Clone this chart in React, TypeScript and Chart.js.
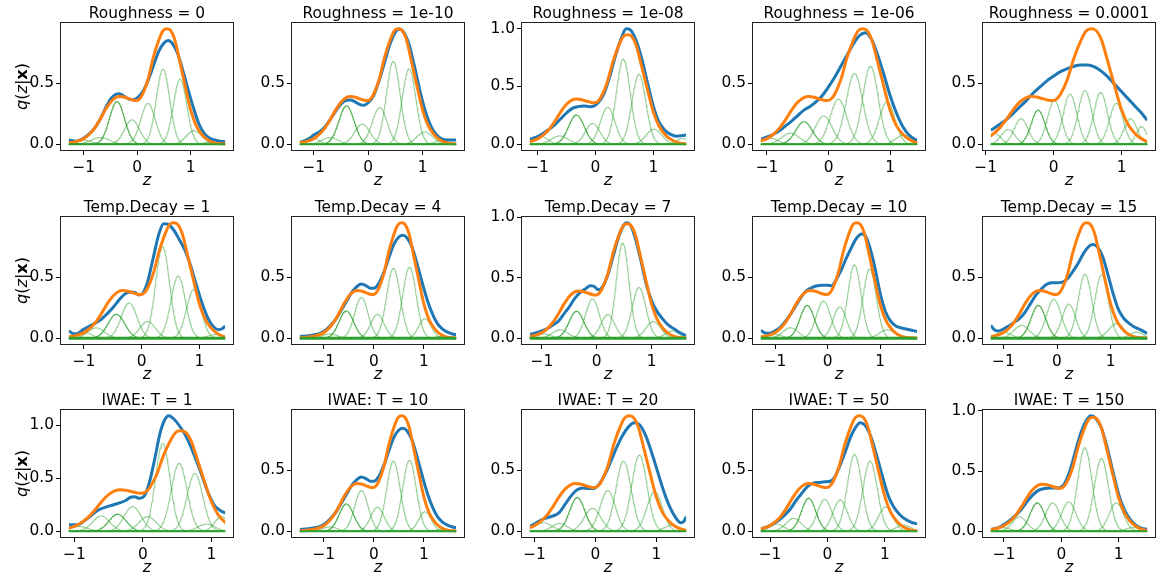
import React, { useEffect, useRef } from "react";
import { Chart, registerables } from "chart.js";
Chart.register(...registerables);

const FAMILY = "'DejaVu Sans', 'Verdana', 'Noto Sans', sans-serif";
const L = 0.5; // light component
const D = 0.85; // dark component

const titles = [
  "Roughness = 0", "Roughness = 1e-10", "Roughness = 1e-08", "Roughness = 1e-06", "Roughness = 0.0001",
  "Temp.Decay = 1", "Temp.Decay = 4", "Temp.Decay = 7", "Temp.Decay = 10", "Temp.Decay = 15",
  "IWAE: T = 1", "IWAE: T = 10", "IWAE: T = 20", "IWAE: T = 50", "IWAE: T = 150",
];

const xTickValues = [-1, 0, 1];
const yTickValues = [0, 0.5, 1.0];

// data extent (z) of each panel
const panelRanges: [number, number][] = [
  [-1.28, 1.645], [-1.256, 1.617], [-1.134, 1.568], [-1.1, 1.44], [-0.924, 1.375],
  [-1.262, 1.445], [-1.477, 1.644], [-1.219, 1.629], [-1.27, 1.705], [-1.233, 1.68],
  [-1.081, 1.203], [-1.477, 1.644], [-1.078, 1.49], [-1.16, 1.56], [-1.23, 1.5],
];

// target density (orange), same in every panel
const targetDensity: [number, number][] = [
  [-1.7, 0.001], [-1.5, 0.003], [-1.4, 0.006], [-1.3, 0.01], [-1.2, 0.016], [-1.1, 0.027], [-1.0, 0.046],
  [-0.9, 0.08], [-0.8, 0.13], [-0.7, 0.2], [-0.6, 0.28], [-0.5, 0.345], [-0.4, 0.383], [-0.33, 0.391],
  [-0.25, 0.387], [-0.15, 0.372], [-0.07, 0.36], [-0.01, 0.358], [0.05, 0.375], [0.1, 0.41], [0.2, 0.53],
  [0.3, 0.71], [0.4, 0.85], [0.48, 0.93], [0.55, 0.947], [0.62, 0.935], [0.7, 0.86], [0.8, 0.67],
  [0.9, 0.47], [1.0, 0.28], [1.1, 0.155], [1.2, 0.085], [1.3, 0.042], [1.4, 0.018], [1.5, 0.007],
  [1.6, 0.003], [1.8, 0.001],
];

// approximate posterior q(z|x) (blue)
const blueR1C1: [number, number][] = [[-1.28,0.035],[-1.15,0.025],[-1.0,0.05],[-0.9,0.085],[-0.8,0.13],[-0.7,0.2],[-0.6,0.29],[-0.5,0.37],[-0.4,0.41],[-0.33,0.415],[-0.25,0.395],[-0.15,0.37],[-0.08,0.365],[0.0,0.38],[0.1,0.43],[0.2,0.52],[0.3,0.64],[0.4,0.76],[0.5,0.83],[0.58,0.85],[0.65,0.83],[0.75,0.75],[0.85,0.61],[0.95,0.45],[1.05,0.3],[1.15,0.17],[1.25,0.09],[1.35,0.05],[1.45,0.035],[1.55,0.025],[1.645,0.02]];
const blueR1C2: [number, number][] = [[-1.256,0.015],[-1.1,0.04],[-1.0,0.075],[-0.9,0.1],[-0.8,0.14],[-0.7,0.2],[-0.6,0.27],[-0.5,0.33],[-0.4,0.36],[-0.33,0.362],[-0.25,0.35],[-0.15,0.325],[-0.08,0.32],[0.0,0.34],[0.1,0.4],[0.2,0.52],[0.3,0.67],[0.4,0.82],[0.5,0.92],[0.57,0.945],[0.65,0.92],[0.75,0.82],[0.85,0.64],[0.95,0.44],[1.05,0.27],[1.15,0.15],[1.25,0.08],[1.35,0.045],[1.45,0.035],[1.55,0.035],[1.617,0.035]];
const blueR1C3: [number, number][] = [[-1.134,0.045],[-1.0,0.065],[-0.9,0.095],[-0.8,0.13],[-0.7,0.17],[-0.6,0.22],[-0.5,0.27],[-0.4,0.31],[-0.3,0.325],[-0.2,0.33],[-0.1,0.325],[-0.03,0.33],[0.05,0.36],[0.15,0.44],[0.25,0.59],[0.35,0.77],[0.45,0.92],[0.53,0.998],[0.6,0.99],[0.7,0.9],[0.8,0.74],[0.9,0.53],[1.0,0.33],[1.1,0.19],[1.2,0.12],[1.3,0.085],[1.4,0.07],[1.5,0.075],[1.568,0.08]];
const blueR1C4: [number, number][] = [[-1.1,0.04],[-1.0,0.06],[-0.9,0.08],[-0.8,0.11],[-0.7,0.15],[-0.6,0.19],[-0.5,0.235],[-0.4,0.28],[-0.3,0.31],[-0.2,0.35],[-0.1,0.4],[0.0,0.47],[0.1,0.55],[0.2,0.64],[0.3,0.73],[0.4,0.82],[0.5,0.89],[0.6,0.915],[0.7,0.86],[0.8,0.73],[0.9,0.57],[1.0,0.4],[1.1,0.26],[1.2,0.15],[1.3,0.08],[1.4,0.04],[1.44,0.03]];
const blueR1C5: [number, number][] = [[-0.924,0.115],[-0.8,0.16],[-0.7,0.2],[-0.6,0.25],[-0.5,0.305],[-0.4,0.36],[-0.3,0.42],[-0.2,0.47],[-0.1,0.52],[0.0,0.56],[0.1,0.595],[0.2,0.62],[0.3,0.64],[0.4,0.65],[0.5,0.65],[0.6,0.635],[0.7,0.6],[0.8,0.55],[0.9,0.49],[1.0,0.43],[1.1,0.37],[1.2,0.31],[1.3,0.25],[1.375,0.195]];
const blueR2C1: [number, number][] = [[-1.262,0.06],[-1.2,0.04],[-1.13,0.035],[-1.0,0.075],[-0.9,0.1],[-0.8,0.125],[-0.7,0.155],[-0.6,0.2],[-0.5,0.25],[-0.4,0.31],[-0.3,0.36],[-0.2,0.38],[-0.12,0.375],[-0.05,0.355],[0.02,0.37],[0.1,0.46],[0.2,0.66],[0.3,0.86],[0.38,0.94],[0.45,0.935],[0.55,0.89],[0.65,0.81],[0.75,0.72],[0.85,0.59],[0.95,0.43],[1.05,0.28],[1.15,0.16],[1.25,0.09],[1.33,0.07],[1.4,0.08],[1.445,0.1]];
const blueR2C2: [number, number][] = [[-1.477,0.015],[-1.3,0.02],[-1.15,0.03],[-1.05,0.045],[-0.95,0.07],[-0.85,0.11],[-0.75,0.16],[-0.65,0.23],[-0.55,0.3],[-0.45,0.37],[-0.35,0.42],[-0.25,0.445],[-0.15,0.43],[-0.07,0.41],[0.0,0.41],[0.1,0.45],[0.2,0.54],[0.3,0.66],[0.4,0.77],[0.5,0.83],[0.58,0.845],[0.67,0.82],[0.77,0.74],[0.87,0.6],[0.97,0.45],[1.07,0.31],[1.17,0.2],[1.27,0.12],[1.37,0.075],[1.47,0.05],[1.57,0.035],[1.644,0.03]];
const blueR2C3: [number, number][] = [[-1.219,0.03],[-1.1,0.045],[-1.0,0.06],[-0.9,0.08],[-0.8,0.11],[-0.7,0.14],[-0.6,0.2],[-0.5,0.26],[-0.4,0.33],[-0.3,0.38],[-0.2,0.41],[-0.12,0.435],[-0.05,0.43],[0.03,0.4],[0.1,0.42],[0.2,0.52],[0.3,0.68],[0.4,0.84],[0.5,0.94],[0.55,0.955],[0.62,0.93],[0.7,0.83],[0.8,0.65],[0.9,0.45],[1.0,0.31],[1.1,0.22],[1.2,0.16],[1.3,0.11],[1.4,0.08],[1.5,0.05],[1.629,0.02]];
const blueR2C4: [number, number][] = [[-1.27,0.065],[-1.2,0.045],[-1.12,0.04],[-1.0,0.06],[-0.9,0.09],[-0.8,0.14],[-0.7,0.2],[-0.6,0.27],[-0.5,0.34],[-0.4,0.39],[-0.3,0.415],[-0.2,0.43],[-0.1,0.435],[0.0,0.435],[0.08,0.43],[0.15,0.47],[0.25,0.55],[0.35,0.65],[0.45,0.74],[0.55,0.82],[0.65,0.855],[0.72,0.84],[0.8,0.75],[0.9,0.58],[1.0,0.37],[1.1,0.22],[1.2,0.14],[1.3,0.1],[1.4,0.085],[1.5,0.075],[1.6,0.065],[1.705,0.055]];
const blueR2C5: [number, number][] = [[-1.233,0.105],[-1.17,0.07],[-1.1,0.06],[-1.0,0.075],[-0.9,0.1],[-0.8,0.13],[-0.7,0.16],[-0.6,0.21],[-0.5,0.28],[-0.4,0.35],[-0.3,0.4],[-0.2,0.44],[-0.1,0.455],[0.0,0.455],[0.1,0.46],[0.2,0.49],[0.3,0.55],[0.4,0.62],[0.5,0.7],[0.6,0.755],[0.67,0.768],[0.75,0.75],[0.85,0.67],[0.95,0.52],[1.05,0.36],[1.15,0.23],[1.25,0.16],[1.35,0.12],[1.45,0.09],[1.55,0.07],[1.68,0.04]];
const blueR3C1: [number, number][] = [[-1.081,0.06],[-1.0,0.06],[-0.93,0.065],[-0.85,0.1],[-0.75,0.15],[-0.65,0.2],[-0.55,0.225],[-0.45,0.245],[-0.35,0.265],[-0.25,0.29],[-0.18,0.32],[-0.12,0.325],[-0.05,0.31],[0.02,0.33],[0.1,0.47],[0.18,0.7],[0.25,0.92],[0.32,1.05],[0.38,1.088],[0.45,1.06],[0.55,0.98],[0.65,0.87],[0.75,0.72],[0.85,0.55],[0.95,0.37],[1.05,0.24],[1.12,0.2],[1.203,0.17]];
const blueR3C2: [number, number][] = blueR2C2;
const blueR3C3: [number, number][] = [[-1.078,0.04],[-1.0,0.06],[-0.9,0.09],[-0.8,0.11],[-0.7,0.125],[-0.6,0.15],[-0.5,0.22],[-0.4,0.29],[-0.3,0.34],[-0.2,0.355],[-0.1,0.35],[-0.03,0.35],[0.05,0.38],[0.15,0.46],[0.25,0.57],[0.35,0.69],[0.45,0.79],[0.55,0.86],[0.63,0.89],[0.72,0.875],[0.82,0.79],[0.92,0.65],[1.02,0.49],[1.12,0.33],[1.22,0.2],[1.32,0.11],[1.4,0.07],[1.45,0.08],[1.49,0.12]];
const blueR3C4: [number, number][] = [[-1.16,0.02],[-1.05,0.035],[-0.95,0.06],[-0.85,0.09],[-0.75,0.13],[-0.65,0.18],[-0.55,0.25],[-0.45,0.31],[-0.35,0.365],[-0.25,0.395],[-0.15,0.4],[-0.05,0.405],[0.05,0.41],[0.12,0.44],[0.2,0.52],[0.3,0.64],[0.4,0.77],[0.5,0.86],[0.57,0.89],[0.65,0.87],[0.75,0.78],[0.85,0.63],[0.95,0.46],[1.05,0.3],[1.15,0.2],[1.25,0.14],[1.35,0.1],[1.45,0.075],[1.56,0.06]];
const blueR3C5: [number, number][] = [[-1.23,0.015],[-1.1,0.03],[-1.0,0.055],[-0.9,0.09],[-0.8,0.13],[-0.7,0.18],[-0.6,0.245],[-0.5,0.3],[-0.4,0.34],[-0.3,0.355],[-0.2,0.36],[-0.1,0.36],[-0.03,0.362],[0.05,0.39],[0.15,0.5],[0.25,0.67],[0.35,0.83],[0.45,0.93],[0.52,0.96],[0.6,0.94],[0.7,0.86],[0.8,0.7],[0.9,0.5],[1.0,0.31],[1.1,0.18],[1.2,0.1],[1.3,0.05],[1.4,0.025],[1.5,0.015]];

// mixture components (green): [mean, std, peak height, opacity]
type Comp = [number, number, number, number];
const greenR1C1: Comp[] = [[-1.05,0.18,0.035,L],[-0.69,0.17,0.055,L],[-0.38,0.14,0.35,D],[-0.1,0.14,0.2,L],[0.2,0.135,0.335,L],[0.48,0.125,0.615,L],[0.8,0.125,0.535,L],[1.06,0.145,0.11,L],[1.4,0.14,0.02,L]];
const greenR1C2: Comp[] = [[-1.05,0.125,0.06,L],[-0.7,0.145,0.055,L],[-0.4,0.14,0.315,D],[-0.11,0.14,0.165,L],[0.21,0.135,0.3,L],[0.46,0.125,0.68,L],[0.75,0.125,0.62,L],[1.04,0.145,0.1,L],[1.35,0.125,0.03,L]];
const greenR1C3: Comp[] = [[-0.96,0.125,0.072,L],[-0.62,0.145,0.072,L],[-0.33,0.135,0.253,D],[-0.05,0.125,0.18,L],[0.21,0.125,0.32,L],[0.48,0.12,0.735,L],[0.75,0.12,0.605,L],[1.01,0.135,0.13,L],[1.5,0.1,0.05,L]];
const greenR1C4: Comp[] = [[-0.95,0.125,0.05,L],[-0.62,0.145,0.09,L],[-0.4,0.135,0.185,D],[-0.08,0.135,0.232,L],[0.16,0.135,0.37,L],[0.42,0.135,0.58,L],[0.68,0.125,0.64,L],[0.95,0.125,0.35,L],[1.22,0.125,0.076,L]];
const greenR1C5: Comp[] = [[-0.87,0.09,0.09,L],[-0.67,0.1,0.12,L],[-0.48,0.1,0.21,L],[-0.23,0.1,0.28,D],[0.01,0.1,0.36,L],[0.24,0.1,0.41,L],[0.46,0.1,0.44,L],[0.69,0.1,0.425,L],[0.92,0.1,0.336,L],[1.13,0.095,0.21,L],[1.29,0.075,0.145,L]];
const greenR2C1: Comp[] = [[-1.02,0.145,0.05,L],[-0.79,0.145,0.085,L],[-0.44,0.145,0.196,D],[-0.22,0.135,0.29,L],[0.1,0.135,0.138,L],[0.36,0.12,0.75,L],[0.63,0.125,0.51,L],[0.9,0.125,0.4,L],[1.28,0.125,0.03,L]];
const greenR2C2: Comp[] = [[-0.88,0.145,0.036,L],[-0.55,0.145,0.224,D],[-0.25,0.135,0.334,L],[0.07,0.135,0.196,L],[0.39,0.135,0.575,L],[0.71,0.135,0.583,L],[1.02,0.125,0.16,L],[1.39,0.125,0.017,L]];
const greenR2C3: Comp[] = [[-0.98,0.145,0.036,L],[-0.67,0.145,0.069,L],[-0.37,0.135,0.223,D],[-0.08,0.125,0.325,L],[0.2,0.125,0.196,L],[0.47,0.115,0.788,L],[0.77,0.125,0.42,L],[1.03,0.135,0.138,L],[1.37,0.125,0.06,L]];
const greenR2C4: Comp[] = [[-1.03,0.145,0.035,L],[-0.71,0.145,0.086,L],[-0.39,0.135,0.27,D],[-0.08,0.135,0.304,L],[0.23,0.125,0.257,L],[0.51,0.125,0.602,L],[0.8,0.125,0.569,L],[1.13,0.145,0.069,L]];
const greenR2C5: Comp[] = [[-1.0,0.145,0.05,L],[-0.66,0.145,0.105,L],[-0.35,0.135,0.27,D],[-0.06,0.135,0.318,L],[0.22,0.125,0.28,L],[0.52,0.125,0.525,L],[0.83,0.125,0.52,L],[1.11,0.145,0.12,L],[1.48,0.125,0.05,L]];
const greenR3C1: Comp[] = [[-0.93,0.125,0.044,L],[-0.61,0.125,0.144,L],[-0.37,0.125,0.16,D],[-0.15,0.125,0.232,L],[0.07,0.125,0.138,L],[0.29,0.105,0.828,L],[0.53,0.115,0.64,L],[0.76,0.115,0.545,L],[0.93,0.125,0.066,L],[1.15,0.1,0.138,L]];
const greenR3C2: Comp[] = greenR2C2;
const greenR3C3: Comp[] = [[-0.86,0.145,0.07,L],[-0.59,0.125,0.064,L],[-0.3,0.125,0.276,D],[-0.05,0.135,0.188,L],[0.2,0.125,0.334,L],[0.46,0.125,0.575,L],[0.72,0.125,0.624,L],[0.97,0.125,0.326,L],[1.26,0.125,0.05,L]];
const greenR3C4: Comp[] = [[-0.88,0.125,0.058,L],[-0.59,0.135,0.105,L],[-0.33,0.125,0.27,D],[-0.05,0.125,0.262,L],[0.22,0.125,0.257,L],[0.47,0.125,0.63,L],[0.74,0.125,0.575,L],[1.01,0.125,0.2,L],[1.32,0.125,0.05,L]];
const greenR3C5: Comp[] = [[-1.02,0.125,0.03,L],[-0.73,0.125,0.12,L],[-0.42,0.125,0.236,D],[-0.15,0.125,0.236,L],[0.13,0.125,0.244,L],[0.41,0.125,0.694,L],[0.7,0.125,0.606,L],[0.96,0.125,0.236,L],[1.25,0.125,0.03,L]];

const panelBlue = [blueR1C1, blueR1C2, blueR1C3, blueR1C4, blueR1C5, blueR2C1, blueR2C2, blueR2C3, blueR2C4, blueR2C5, blueR3C1, blueR3C2, blueR3C3, blueR3C4, blueR3C5];
const panelGreen = [greenR1C1, greenR1C2, greenR1C3, greenR1C4, greenR1C5, greenR2C1, greenR2C2, greenR2C3, greenR2C4, greenR2C5, greenR3C1, greenR3C2, greenR3C3, greenR3C4, greenR3C5];

// layout
const Y_AXIS_W = 60;
const PAD_R = 8;
const TITLE_H = 22;
const X_AXIS_H = 45;
const PLOT_W = 172;
const PLOT_H = 127;
const CANVAS_W = Y_AXIS_W + PLOT_W + PAD_R;
const CANVAS_H = TITLE_H + PLOT_H + X_AXIS_H;
const COL_LEFT = [1, 232, 462, 693, 923];
const ROW_TOP = [1, 195, 388];

const BLUE = "#1f77b4";
const ORANGE = "#ff7f0e";
const greenRGBA = (a: number) => `rgba(44,160,44,${a})`;

// text in the reference is set at ~13.8px in a wide sans face; calibrate the size
// so the rendered text width matches whichever sans face the browser resolves.
const BASE_SIZE = 13.8;
let sizeCache = 0;
function fontSize(): number {
  if (sizeCache) return sizeCache;
  const c = document.createElement("canvas").getContext("2d");
  if (!c) return BASE_SIZE;
  c.font = `${BASE_SIZE}px ${FAMILY}`;
  const w = c.measureText("Roughness = 0Temp.Decay = 1").width;
  const expected = (8.611 + 9.003) * BASE_SIZE;
  const k = w > 0 ? Math.min(1.3, Math.max(0.85, expected / w)) : 1;
  sizeCache = BASE_SIZE * k;
  return sizeCache;
}

const framePlugin = {
  id: "frame",
  afterDraw(chart: any) {
    const { ctx, chartArea } = chart;
    ctx.save();
    ctx.strokeStyle = "#222";
    ctx.lineWidth = 1;
    ctx.strokeRect(Math.round(chartArea.left) - 0.5, Math.round(chartArea.top) - 0.5,
      Math.round(chartArea.right - chartArea.left) + 1, Math.round(chartArea.bottom - chartArea.top) + 1);
    ctx.restore();
  },
};

const yTitlePlugin = {
  id: "ytitle",
  afterDraw(chart: any) {
    const { ctx, chartArea } = chart;
    const s = fontSize() * 1.05;
    const parts: [string, string][] = [
      ["q", `italic ${s}px ${FAMILY}`],
      ["(", `${s}px ${FAMILY}`],
      ["z", `italic ${s}px ${FAMILY}`],
      ["|", `${s}px ${FAMILY}`],
      ["x", `bold ${s}px ${FAMILY}`],
      [")", `${s}px ${FAMILY}`],
    ];
    ctx.save();
    ctx.translate(chartArea.left - 38, (chartArea.top + chartArea.bottom) / 2);
    ctx.rotate(-Math.PI / 2);
    ctx.fillStyle = "#000";
    ctx.textBaseline = "middle";
    ctx.textAlign = "left";
    let total = 0;
    for (const [t, f] of parts) { ctx.font = f; total += ctx.measureText(t).width; }
    let x = -total / 2;
    for (const [t, f] of parts) { ctx.font = f; ctx.fillText(t, x, 0); x += ctx.measureText(t).width; }
    ctx.restore();
  },
};

const fmtX = (v: number) => (v < 0 ? "\u2212" + Math.abs(v) : String(v));

function Panel({ idx }: { idx: number }) {
  const ref = useRef<HTMLCanvasElement>(null);
  const row = Math.floor(idx / 5);
  const col = idx % 5;
  useEffect(() => {
    if (!ref.current) return;
    const fs = fontSize();
    const [lo, hi] = panelRanges[idx];
    const span = hi - lo;
    const xmin = lo - 0.05 * span;
    const xmax = hi + 0.05 * span;
    const blue = panelBlue[idx];
    const comps = panelGreen[idx];
    const orange = targetDensity.filter((p) => p[0] >= xmin - 0.3 && p[0] <= xmax + 0.3);
    let M = 0;
    for (const p of blue) M = Math.max(M, p[1]);
    for (const p of orange) if (p[0] >= lo && p[0] <= hi) M = Math.max(M, p[1]);
    const ymin = -0.05 * M;
    const ymax = 1.05 * M;
    const clipPx = (PLOT_W * 0.05) / 1.1;
    const clip = { left: -clipPx, right: -clipPx, top: 6, bottom: 6 };

    const grid: number[] = [];
    for (let z = xmin; z <= xmax + 1e-9; z += 0.01) grid.push(z);

    const datasets: any[] = [];
    datasets.push({
      data: [{ x: lo, y: 0 }, { x: hi, y: 0 }],
      borderColor: "#2ca02c", borderWidth: row === 1 ? 3 : 2, pointRadius: 0, clip,
    });
    datasets.push({
      data: orange.map(([x, y]) => ({ x, y })),
      borderColor: ORANGE, borderWidth: 3, pointRadius: 0, cubicInterpolationMode: "monotone", clip,
    });
    datasets.push({
      data: blue.map(([x, y]) => ({ x, y })),
      borderColor: BLUE, borderWidth: 3, pointRadius: 0, cubicInterpolationMode: "monotone", clip,
    });
    for (const [mu, sd, pk, a] of comps) {
      datasets.push({
        data: grid.map((z) => ({ x: z, y: pk * Math.exp(-0.5 * ((z - mu) / sd) ** 2) })),
        borderColor: greenRGBA(a), borderWidth: 1.1, pointRadius: 0, tension: 0, clip,
      });
    }

    const tickFont = { family: FAMILY, size: fs };
    const chart = new Chart(ref.current, {
      type: "line",
      data: { datasets },
      options: {
        responsive: false,
        animation: false,
        devicePixelRatio: 1,
        events: [],
        layout: { padding: { left: 0, right: PAD_R, top: 0, bottom: 0 } },
        plugins: {
          legend: { display: false },
          tooltip: { enabled: false },
          title: {
            display: true,
            text: titles[idx],
            color: "#000",
            font: { family: FAMILY, size: fs, weight: "normal", lineHeight: "16px" },
            padding: { top: 5, bottom: 1 },
            fullSize: false,
          },
        },
        scales: {
          x: {
            type: "linear",
            min: xmin,
            max: xmax,
            afterBuildTicks: (s: any) => {
              s.ticks = xTickValues.filter((v) => v >= xmin && v <= xmax).map((v) => ({ value: v }));
            },
            afterFit: (s: any) => { s.height = X_AXIS_H; },
            ticks: { color: "#000", font: tickFont, padding: 4, maxRotation: 0, autoSkip: false, callback: (v: any) => fmtX(Number(v)) },
            grid: { drawOnChartArea: false, drawTicks: true, tickLength: 5, tickColor: "#000", color: "#000" },
            border: { display: false },
            title: { display: true, text: "z", color: "#000", font: { family: FAMILY, size: fs * 1.05, style: "italic", lineHeight: "17px" }, padding: { top: 0, bottom: 6 } },
          },
          y: {
            type: "linear",
            min: ymin,
            max: ymax,
            afterBuildTicks: (s: any) => {
              s.ticks = yTickValues.filter((v) => v >= ymin && v <= ymax).map((v) => ({ value: v }));
            },
            afterFit: (s: any) => { s.width = Y_AXIS_W; },
            ticks: { color: "#000", font: tickFont, padding: 2, autoSkip: false, callback: (v: any) => Number(v).toFixed(1) },
            grid: { drawOnChartArea: false, drawTicks: true, tickLength: 5, tickColor: "#000", color: "#000" },
            border: { display: false },
          },
        },
      } as any,
      plugins: col === 0 ? [framePlugin, yTitlePlugin] : [framePlugin],
    });
    return () => chart.destroy();
  }, [idx]);
  return (
    <canvas
      ref={ref}
      width={CANVAS_W}
      height={CANVAS_H}
      style={{ position: "absolute", left: COL_LEFT[col], top: ROW_TOP[row], width: CANVAS_W, height: CANVAS_H }}
    />
  );
}

export default function App() {
  return (
    <div style={{ position: "fixed", left: 0, top: 0, width: 1156, height: 577, background: "#fff", overflow: "hidden" }}>
      {titles.map((_, i) => (
        <Panel key={i} idx={i} />
      ))}
    </div>
  );
}
